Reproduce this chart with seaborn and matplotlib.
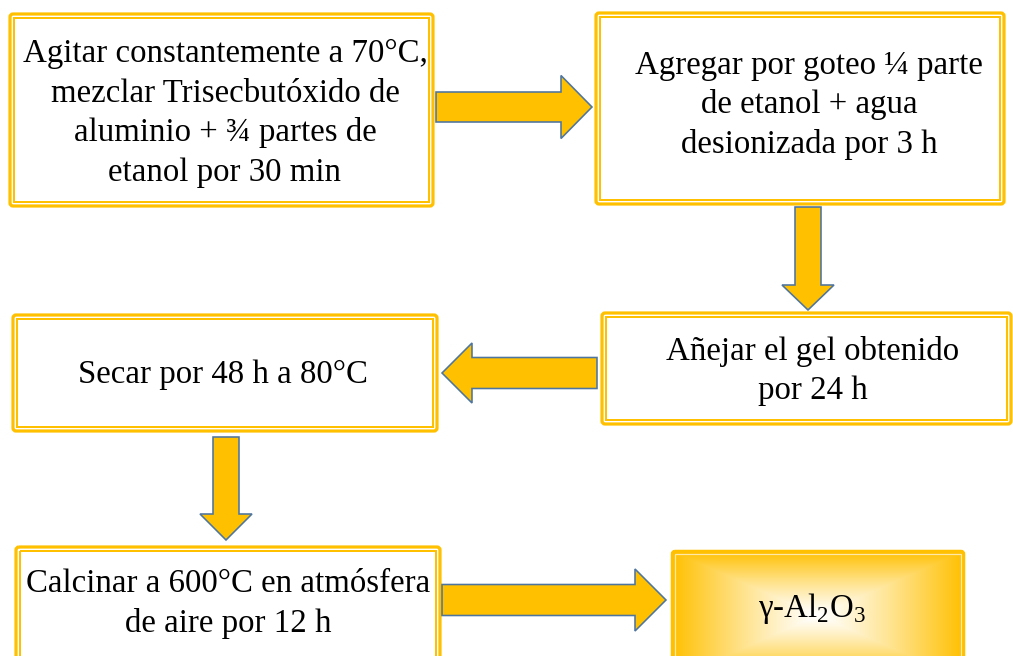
import numpy as np
import matplotlib
matplotlib.use("Agg")
import matplotlib.pyplot as plt
from matplotlib.patches import FancyBboxPatch, Rectangle, Polygon
import seaborn as sns

sns.set_theme(style="white")
plt.rcParams['font.family'] = ['Liberation Serif', 'DejaVu Serif']
plt.rcParams['mathtext.fontset'] = 'custom'
plt.rcParams['mathtext.rm'] = 'Liberation Serif'

# ---- content ----
step1 = ["Agitar constantemente a 70°C,", "mezclar Trisecbutóxido de",
         "aluminio + ¾ partes de", "etanol por 30 min"]
step2 = ["Agregar por goteo ¼ parte", "de etanol + agua", "desionizada por 3 h"]
step3 = ["Secar por 48 h a 80°C"]
step4 = ["Añejar el gel obtenido", "por 24 h"]
step5 = ["Calcinar a 600°C en atmósfera", "de aire por 12 h"]
product = r"γ-Al$_\mathrm{2}$O$_\mathrm{3}$"

W, H = 1013, 656
GOLD = "#FFC000"
EDGE = "#4E759E"
FS = 23.7
LINE = 39.5

fig = plt.figure(figsize=(W / 100, H / 100), dpi=100)
ax = fig.add_axes([0, 0, 1, 1])
ax.set_xlim(0, W)
ax.set_ylim(H, 0)
ax.axis("off")

px = 0.72  # points per pixel


def double_box(x0, y0, x1, y1):
    outer = FancyBboxPatch((x0, y0), x1 - x0, y1 - y0,
                           boxstyle="round,pad=0,rounding_size=3",
                           fill=False, ec=GOLD, lw=3.2 * px)
    ax.add_patch(outer)
    d = 4.2
    inner = Rectangle((x0 + d, y0 + d), x1 - x0 - 2 * d, y1 - y0 - 2 * d,
                      fill=False, ec=GOLD, lw=2.0 * px)
    ax.add_patch(inner)


def lines_text(cx, cy, lines):
    n = len(lines)
    for i, s in enumerate(lines):
        y = cy + (i - (n - 1) / 2) * LINE
        ax.text(cx, y, s, ha="center", va="center", fontsize=FS, color="black")


def block_arrow(tail, tip, shaft_w, head_w, head_l):
    tail = np.array(tail, float)
    tip = np.array(tip, float)
    d = tip - tail
    L = np.linalg.norm(d)
    u = d / L
    n = np.array([-u[1], u[0]])
    base = tip - u * head_l
    pts = [tail + n * shaft_w / 2, base + n * shaft_w / 2, base + n * head_w / 2,
           tip, base - n * head_w / 2, base - n * shaft_w / 2, tail - n * shaft_w / 2]
    ax.add_patch(Polygon(pts, closed=True, fc=GOLD, ec=EDGE, lw=1.6 * px,
                         joinstyle="miter"))


# boxes
double_box(10, 14, 433, 206)
double_box(596, 13, 1004, 204)
double_box(13, 315, 437, 431)
double_box(602, 313, 1011, 424)
double_box(16, 547, 440, 680)

# gradient product box
gx0, gy0, gx1, gy1 = 672, 551, 964, 680
nx, ny = 300, 140
u = np.linspace(-1, 1, nx)
v = np.linspace(-1, 1, ny)
U, V = np.meshgrid(u, v)
t = np.maximum(np.abs(U), np.abs(V))
t = np.clip(t, 0, 1) ** 1.2
gold = np.array([255, 192, 0]) / 255.0
white = np.array([1.0, 1.0, 1.0])
img = white[None, None, :] * (1 - t[..., None]) + gold[None, None, :] * t[..., None]
ax.imshow(img, extent=(gx0, gx1, gy1, gy0), origin="upper", aspect="auto",
          interpolation="bilinear", zorder=1)
ax.add_patch(FancyBboxPatch((gx0, gy0), gx1 - gx0, gy1 - gy0,
                            boxstyle="round,pad=0,rounding_size=3",
                            fill=False, ec=GOLD, lw=2.5 * px, zorder=2))
ax.add_patch(Rectangle((gx0 + 3, gy0 + 3), gx1 - gx0 - 6, gy1 - gy0 - 6,
                       fill=False, ec="#FFE9A8", lw=1.2 * px, zorder=2))

# arrows
block_arrow((436, 107), (592, 107), 30, 63, 31)
block_arrow((808, 207), (808, 310), 26, 52, 25)
block_arrow((597, 373), (442, 373), 31, 60, 30)
block_arrow((226, 437), (226, 540), 26, 52, 26)
block_arrow((442, 600), (666, 600), 31, 62, 31)

# texts
lines_text(225, 113, step1)
lines_text(809, 105, step2)
lines_text(223, 375, step3)
lines_text(813, 371, step4)
lines_text(228, 604, step5)
ax.text(812, 609, product, ha="center", va="center", fontsize=FS, color="black",
        zorder=3)

fig.savefig("out.png", dpi=100)
